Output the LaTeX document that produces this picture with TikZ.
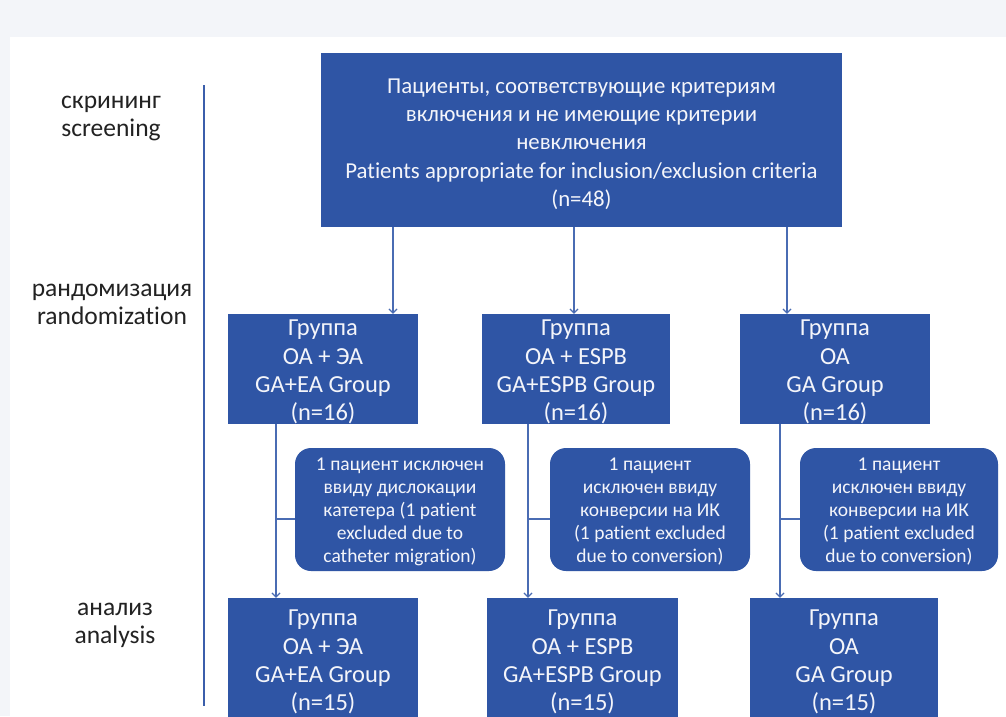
\documentclass[tikz,border=0pt]{standalone}
\usepackage{fontspec}
\setmainfont[Ligatures=NoCommon]{Carlito}
\usetikzlibrary{arrows.meta}
\definecolor{boxblue}{HTML}{2F55A5}
\definecolor{lineblue}{HTML}{4A6CB3}
\definecolor{barblue}{HTML}{3B5EAB}
\definecolor{bggrey}{HTML}{F3F5F9}
\definecolor{labelgrey}{HTML}{222222}
\definecolor{boxtext}{HTML}{F4F5FA}
\begin{document}
\begin{tikzpicture}[x=1pt,y=-1pt,
  boxshape/.style={draw=none, fill=boxblue, inner sep=0pt},
  exclshape/.style={boxshape, rounded corners=16pt},
  txt/.style={text=boxtext, align=center, inner sep=0pt},
  grouptxt/.style={txt, font=\fontsize{24.5}{28.3}\selectfont},
  toptxt/.style={txt, font=\fontsize{22.8}{28.3}\selectfont},
  excltxt/.style={txt, font=\fontsize{19.5}{23}\selectfont},
  stagelabel/.style={align=center, inner sep=0pt, text=labelgrey, font=\fontsize{25.5}{28}\selectfont},
  conn/.style={draw=lineblue, line width=1.5pt},
  arr/.style={conn, -{Straight Barb[length=4pt,width=8pt,line width=1.2pt]}},
  bar/.style={draw=barblue, line width=2.6pt}]
\useasboundingbox (0,0) rectangle (1006,716);
\fill[bggrey] (0,0) rectangle (1006,716);
\fill[white] (10,37) rectangle (1006,716);

% stage bar and labels
\coordinate (bartop) at (204,85);
\coordinate (barbot) at (204,706);
\draw[bar] (bartop) -- (barbot);
\node[stagelabel] (lscr) at (111,118) {скрининг\\screening};
\node[stagelabel] (lrand) at (112,304) {рандомизация\\randomization};
\node[stagelabel] (lan) at (115,625) {анализ\\analysis};

% top box
\node[boxshape, minimum width=521pt, minimum height=174pt] (top) at (581.5,140) {};
\node[toptxt] (topt) at ([yshift=-4pt]top.center)
  {Пациенты, соответствующие критериям\\включения и не имеющие критерии\\невключения\\Patients appropriate for inclusion/exclusion criteria\\(n=48)};

% randomized groups
\node[boxshape, minimum width=190pt, minimum height=110pt] (g1) at (323,369) {};
\node[boxshape, minimum width=188pt, minimum height=110pt] (g2) at (576,369) {};
\node[boxshape, minimum width=190pt, minimum height=110pt] (g3) at (835,369) {};
\node[grouptxt] (g1t) at ([yshift=-3pt]g1.center) {Группа\\ОА + ЭА\\GA+EA Group\\(n=16)};
\node[grouptxt] (g2t) at ([yshift=-3pt]g2.center) {Группа\\ОА + ESPB\\GA+ESPB Group\\(n=16)};
\node[grouptxt] (g3t) at ([yshift=-3pt]g3.center) {Группа\\ОА\\GA Group\\(n=16)};

% exclusion boxes
\node[exclshape, minimum width=210pt, minimum height=123pt] (e1) at (400,509.5) {};
\node[exclshape, minimum width=200pt, minimum height=123pt] (e2) at (650,509.5) {};
\node[exclshape, minimum width=198pt, minimum height=123pt] (e3) at (899,509.5) {};
\node[excltxt] (e1t) at ([yshift=-2pt]e1.center)
  {1 пациент исключен\\ввиду дислокации\\катетера (1 patient\\excluded due to\\catheter migration)};
\node[excltxt] (e2t) at ([yshift=-2pt]e2.center)
  {1 пациент\\исключен ввиду\\конверсии на ИК\\(1 patient excluded\\due to conversion)};
\node[excltxt] (e3t) at ([yshift=-2pt]e3.center)
  {1 пациент\\исключен ввиду\\конверсии на ИК\\(1 patient excluded\\due to conversion)};

% analysis groups
\node[boxshape, minimum width=190pt, minimum height=124pt] (a1) at (323,660) {};
\node[boxshape, minimum width=191pt, minimum height=124pt] (a2) at (582.5,660) {};
\node[boxshape, minimum width=188pt, minimum height=124pt] (a3) at (844,660) {};
\node[grouptxt] (a1t) at ([yshift=-2pt]a1.center) {Группа\\ОА + ЭА\\GA+EA Group\\(n=15)};
\node[grouptxt] (a2t) at ([yshift=-2pt]a2.center) {Группа\\ОА + ESPB\\GA+ESPB Group\\(n=15)};
\node[grouptxt] (a3t) at ([yshift=-2pt]a3.center) {Группа\\ОА\\GA Group\\(n=15)};

% arrows from top box
\coordinate (x1) at (393,0);
\coordinate (x2) at (574,0);
\coordinate (x3) at (787,0);
\draw[arr] (x1 |- top.south) -- (x1 |- g1.north);
\draw[arr] (x2 |- top.south) -- (x2 |- g2.north);
\draw[arr] (x3 |- top.south) -- (x3 |- g3.north);

% arrows to analysis, with branches to exclusions
\coordinate (v1) at (276,519);
\coordinate (v2) at (528,519);
\coordinate (v3) at (780,519);
\draw[arr] (v1 |- g1.south) -- (v1 |- a1.north);
\draw[arr] (v2 |- g2.south) -- (v2 |- a2.north);
\draw[arr] (v3 |- g3.south) -- (v3 |- a3.north);
\draw[conn] (v1) -- (v1 -| e1.west);
\draw[conn] (v2) -- (v2 -| e2.west);
\draw[conn] (v3) -- (v3 -| e3.west);
\end{tikzpicture}
\end{document}
